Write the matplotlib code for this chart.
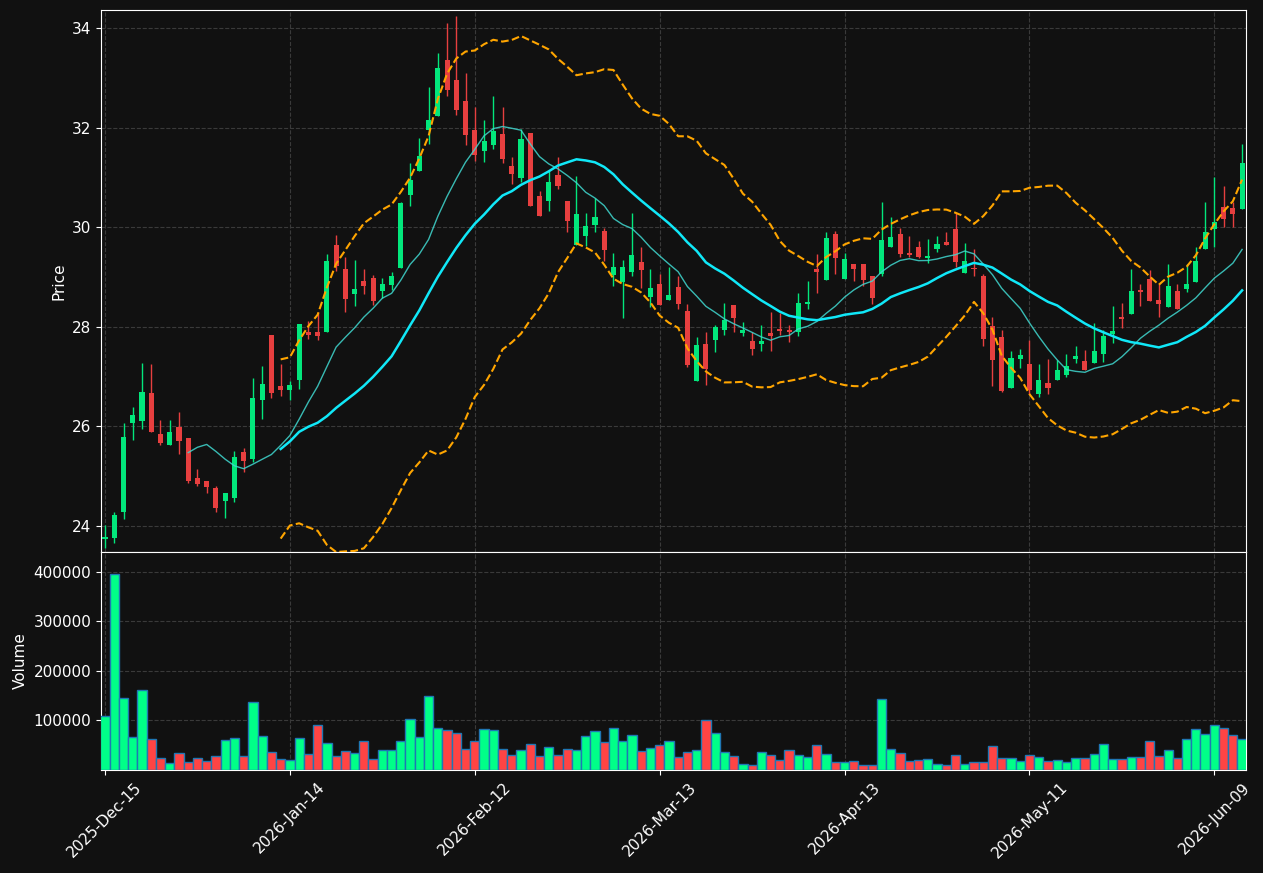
import numpy as np
import pandas as pd
import matplotlib
matplotlib.use('Agg')
import matplotlib.pyplot as plt

# OHLC (124 trading days)
opens = [23.75, 23.77, 24.29, 26.07, 26.11, 26.68, 25.84, 25.63, 25.98, 25.76,
         24.96, 24.90, 24.76, 24.51, 24.57, 25.48, 25.35, 26.53, 27.84, 26.82,
         26.73, 26.94, 27.90, 27.90, 27.89, 29.65, 29.16, 28.66, 28.91, 28.97,
         28.72, 28.83, 29.18, 30.64, 31.12, 31.95, 32.24, 33.36, 32.96, 32.53,
         31.96, 31.53, 31.65, 31.87, 31.22, 30.99, 31.89, 30.62, 30.53, 31.04,
         30.52, 29.64, 29.83, 30.05, 29.92, 29.04, 28.90, 29.10, 29.30, 28.60,
         28.86, 28.54, 28.79, 28.32, 26.91, 27.66, 27.74, 27.93, 28.44, 27.87,
         27.71, 27.65, 27.87, 27.96, 27.93, 27.90, 28.46, 29.16, 28.94, 29.87,
         28.96, 29.26, 29.26, 29.02, 29.06, 29.60, 29.87, 29.49, 29.60, 29.38,
         29.56, 29.70, 29.97, 29.09, 29.18, 29.02, 28.01, 27.79, 26.77, 27.35,
         27.25, 26.65, 26.87, 26.94, 27.04, 27.36, 27.31, 27.28, 27.46, 27.85,
         28.19, 28.25, 28.74, 28.96, 28.54, 28.40, 28.72, 28.75, 28.89, 29.57,
         29.96, 30.41, 30.39, 30.36]
highs = [24.02, 24.29, 26.07, 26.39, 27.27, 27.25, 26.13, 26.13, 26.30, 25.76,
         25.14, 24.90, 24.80, 24.66, 25.51, 25.56, 26.98, 27.21, 27.84, 27.26,
         26.91, 28.06, 28.11, 28.29, 29.47, 29.85, 29.40, 29.34, 29.16, 29.04,
         28.98, 29.10, 30.50, 31.28, 31.79, 32.81, 33.50, 34.10, 34.23, 33.10,
         32.42, 32.15, 32.63, 32.41, 31.40, 31.97, 31.89, 30.72, 31.12, 31.40,
         30.52, 31.02, 30.29, 30.58, 29.99, 29.49, 29.35, 30.29, 29.61, 29.17,
         29.06, 29.21, 29.01, 28.45, 27.79, 27.89, 28.03, 28.47, 28.44, 28.09,
         27.89, 28.03, 28.29, 28.28, 28.03, 28.67, 28.92, 29.46, 29.90, 29.92,
         29.48, 29.26, 29.26, 29.02, 30.50, 30.21, 29.98, 29.82, 29.72, 29.76,
         29.82, 29.90, 30.28, 29.68, 29.56, 29.07, 28.20, 27.93, 27.52, 27.56,
         27.73, 27.26, 27.36, 27.33, 27.46, 27.62, 27.54, 28.07, 27.93, 28.42,
         28.47, 29.17, 28.85, 29.14, 28.87, 29.26, 28.85, 29.26, 29.60, 30.50,
         31.00, 30.83, 30.50, 31.67]
lows = [23.56, 23.67, 24.15, 25.73, 25.95, 25.89, 25.63, 25.63, 25.45, 24.87,
        24.81, 24.67, 24.29, 24.17, 24.49, 25.09, 25.29, 26.15, 26.57, 26.61,
        26.54, 26.76, 27.76, 27.73, 27.89, 29.13, 28.29, 28.41, 28.66, 28.43,
        28.58, 28.74, 29.18, 30.43, 31.12, 31.66, 32.24, 32.64, 32.25, 31.65,
        31.32, 31.30, 31.56, 31.28, 30.86, 30.91, 30.43, 30.23, 30.32, 30.76,
        29.91, 29.64, 29.62, 29.91, 29.32, 28.81, 28.17, 29.02, 28.77, 28.39,
        28.44, 28.54, 28.35, 27.19, 26.91, 26.84, 27.50, 27.83, 27.90, 27.81,
        27.43, 27.52, 27.52, 27.83, 27.70, 27.81, 28.36, 28.68, 28.94, 29.07,
        28.96, 28.91, 28.81, 28.46, 29.01, 29.60, 29.41, 29.41, 29.38, 29.28,
        29.50, 29.65, 29.21, 29.09, 29.01, 27.62, 26.81, 26.70, 26.77, 27.17,
        26.65, 26.60, 26.66, 26.93, 26.99, 27.28, 27.14, 27.28, 27.30, 27.68,
        27.97, 28.25, 28.42, 28.52, 28.19, 28.40, 28.36, 28.70, 28.89, 29.57,
        29.61, 30.01, 30.00, 30.36]
closes = [23.78, 24.22, 25.78, 26.22, 26.70, 25.89, 25.67, 25.88, 25.71, 24.90,
          24.85, 24.79, 24.37, 24.66, 25.38, 25.31, 26.58, 26.86, 26.67, 26.73,
          26.84, 28.05, 27.83, 27.81, 29.33, 29.23, 28.56, 28.75, 28.82, 28.51,
          28.86, 29.02, 30.49, 30.94, 31.42, 32.16, 33.20, 32.76, 32.36, 31.84,
          31.44, 31.73, 31.93, 31.36, 31.07, 31.77, 30.43, 30.23, 30.90, 30.83,
          30.13, 30.26, 30.02, 30.20, 29.55, 29.20, 29.20, 29.44, 29.14, 28.78,
          28.44, 28.64, 28.46, 27.23, 27.63, 27.15, 27.99, 28.13, 28.17, 27.93,
          27.55, 27.72, 27.81, 27.92, 27.89, 28.48, 28.50, 29.10, 29.79, 29.39,
          29.36, 29.16, 28.93, 28.58, 29.74, 29.81, 29.46, 29.45, 29.40, 29.42,
          29.66, 29.65, 29.30, 29.32, 29.17, 27.75, 27.33, 26.72, 27.37, 27.43,
          26.74, 26.94, 26.78, 27.13, 27.21, 27.41, 27.14, 27.51, 27.81, 27.91,
          28.16, 28.72, 28.70, 28.52, 28.45, 28.82, 28.36, 28.86, 29.32, 29.91,
          30.11, 30.16, 30.26, 31.28]
volumes = [108, 396, 146, 66, 162, 62, 24, 14, 34, 16,
           24, 18, 28, 60, 64, 28, 138, 68, 36, 22,
           20, 64, 32, 90, 54, 28, 38, 34, 58, 22,
           40, 40, 58, 102, 66, 150, 84, 80, 74, 42,
           58, 82, 80, 42, 30, 40, 52, 28, 46, 30,
           42, 40, 68, 78, 56, 84, 58, 70, 38, 44,
           50, 58, 26, 36, 40, 100, 74, 36, 28, 12,
           10, 36, 30, 20, 40, 30, 26, 50, 32, 16,
           16, 18, 10, 10, 144, 42, 34, 18, 20, 22,
           12, 10, 30, 12, 16, 16, 48, 24, 24, 18,
           30, 26, 18, 20, 16, 24, 24, 32, 52, 22,
           22, 26, 26, 58, 28, 40, 24, 62, 82, 72,
           90, 84, 70, 62]
volumes = [v * 1000 for v in volumes]
tick_labels = ['2025-Dec-15', '2026-Jan-14', '2026-Feb-12', '2026-Mar-13',
               '2026-Apr-13', '2026-May-11', '2026-Jun-09']

df = pd.DataFrame({'open': opens, 'high': highs, 'low': lows,
                   'close': closes, 'volume': volumes})
df['ma10'] = df['close'].rolling(10).mean()
df['ma20'] = df['close'].rolling(20).mean()
std20 = df['close'].rolling(20).std(ddof=0)
df['bb_up'] = df['ma20'] + 2 * std20
df['bb_low'] = df['ma20'] - 2 * std20

bg = '#111111'
up_c, down_c = '#02e77c', '#e73f3f'
vol_up, vol_down = '#00ff88', '#ff4444'

fig = plt.figure(figsize=(12.63, 8.73), dpi=100, facecolor=bg)
ax1 = fig.add_axes([0.0800, 0.3677, 0.9066, 0.6209])
ax2 = fig.add_axes([0.0800, 0.1180, 0.9066, 0.2497], sharex=ax1)

x = np.arange(len(df))
up = df['close'] >= df['open']
colors = np.where(up, up_c, down_c)

ax1.vlines(x, df['low'], df['high'], colors=colors, linewidth=1, zorder=3)
body_bottom = np.minimum(df['open'], df['close'])
body_h = np.maximum((df['close'] - df['open']).abs(), 0.015)
ax1.bar(x, body_h, bottom=body_bottom, width=0.55, color=colors, zorder=4)

ax1.plot(x, df['ma10'], color='#40d8d0', linewidth=1, alpha=0.85, zorder=5)
ax1.plot(x, df['ma20'], color='#10e8f8', linewidth=1.8, zorder=5)
ax1.plot(x, df['bb_up'], color='orange', linestyle='--', linewidth=1.5, zorder=5)
ax1.plot(x, df['bb_low'], color='orange', linestyle='--', linewidth=1.5, zorder=5)

vcolors = np.where(up, vol_up, vol_down)
ax2.bar(x, df['volume'], width=1.0, color=vcolors, edgecolor='#1f77b4',
        linewidth=1, zorder=3)

for ax in (ax1, ax2):
    ax.set_facecolor(bg)
    ax.grid(True, color='#3a3a3a', linestyle='--', linewidth=0.8)
    ax.set_axisbelow(True)
    for s in ax.spines.values():
        s.set_color('white')
    ax.tick_params(colors='white', labelsize=11)

ax1.set_xlim(-0.43, len(df) - 1 + 0.43)
ax1.set_ylim(23.48, 34.36)
ax1.set_yticks([24, 26, 28, 30, 32, 34])
ax1.set_ylabel('Price', color='white', fontsize=11)
ax1.tick_params(axis='x', labelbottom=False)

ax2.set_ylim(0, 440000)
ax2.set_yticks([100000, 200000, 300000, 400000])
ax2.set_yticklabels(['100000', '200000', '300000', '400000'])
ax2.set_ylabel('Volume', color='white', fontsize=11)
ax2.set_xticks(range(0, len(df), 20))
ax2.set_xticklabels(tick_labels, rotation=45)

fig.savefig('out.png', dpi=100, facecolor=bg)
